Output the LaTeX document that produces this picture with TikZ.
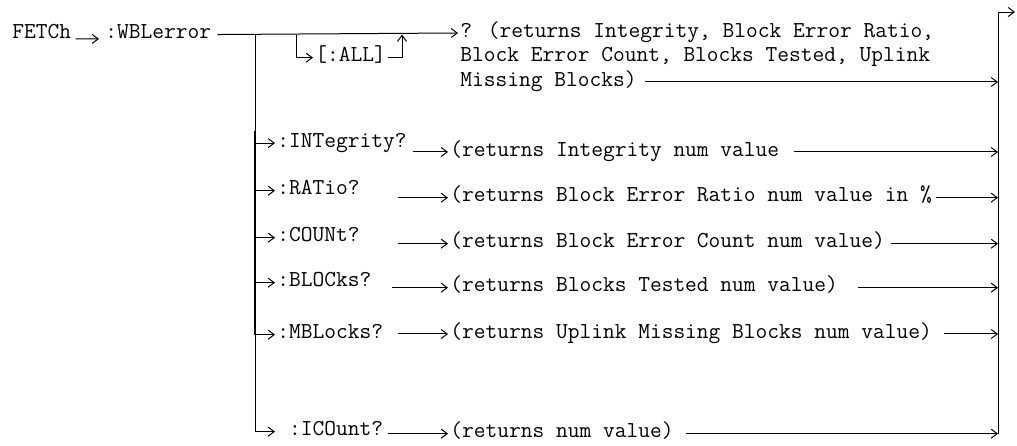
\documentclass[tikz,border=0pt]{standalone}
\usepackage{fontspec}
\usepackage{tikz}
\usetikzlibrary{arrows.meta}
\tikzset{
  cmdnode/.style={anchor=west, inner sep=1pt, font=\ttfamily\fontsize{11.4}{12.25}\selectfont},
  retnode/.style={cmdnode},
  flow/.style={-{Straight Barb[length=3pt,width=4.5pt]}, line width=0.5pt},
  bus/.style={line width=0.5pt},
}

\begin{document}
\begin{tikzpicture}[x=0.5pt, y=-0.5pt]
  \useasboundingbox (0,0) rectangle (1017,445);
  % header and the query form
  \node[cmdnode] (fetch) at (10,32) {FETCh};
  \node[cmdnode] (wbl) at (103,32) {:WBLerror};
  \node[cmdnode] (all) at (313,55) {[:ALL]};
  \node[retnode] (q1) at (458,32) {? (returns Integrity, Block Error Ratio,};
  \node[retnode] (q2) at (458,56.5) {Block Error Count, Blocks Tested, Uplink};
  \node[retnode] (q3) at (458,81) {Missing Blocks)};
  % sub commands
  \node[cmdnode] (int) at (275,143) {:INTegrity?};
  \node[cmdnode] (rat) at (275,188) {:RATio?};
  \node[cmdnode] (cnt) at (275,235) {:COUNt?};
  \node[cmdnode] (blk) at (275,280) {:BLOCks?};
  \node[cmdnode] (mbl) at (275,332) {:MBLocks?};
  \node[cmdnode] (ico) at (275,429) {\ :ICOunt?};
  \node[retnode] (rint) at (448,151) {(returns Integrity num value};
  \node[retnode] (rrat) at (448,195) {(returns Block Error Ratio num value in \%};
  \node[retnode] (rcnt) at (448,241) {(returns Block Error Count num value)};
  \node[retnode] (rblk) at (448,285) {(returns Blocks Tested num value)};
  \node[retnode] (rmbl) at (448,333) {(returns Uplink Missing Blocks num value)};
  \node[retnode] (rico) at (448,431) {(returns num value)};
  \coordinate (lbus) at (255,0); \coordinate (xall) at (296,0); \coordinate (xjoin) at (402,0);
  \coordinate (tap) at (398,0); \coordinate (rtop) at (998,12); \coordinate (rout) at (1015,12);
  % main path
  \draw[flow, shorten <=1pt, shorten >=2pt] (fetch.base east) -- (wbl.base west);
  \draw[flow, shorten <=2pt] (wbl.mid east) -- (q1.mid west);
  \draw[flow] (xall |- wbl.mid east) |- (all.mid west);
  \draw[flow] (all.mid east) -| (xjoin |- wbl.mid east);
  \draw[flow, shorten <=3pt] (q3.mid east) -- (q3.mid east -| rtop);
  % left bus
  \draw[flow] (lbus |- wbl.mid east) |- (ico.mid west);
  \draw[line width=1pt] (lbus |- int.north) -- (lbus |- mbl.mid west);
  \draw[flow] (lbus |- int.mid west) -- (int.mid west); \draw[flow] (lbus |- rat.mid west) -- (rat.mid west);
  \draw[flow] (lbus |- cnt.mid west) -- (cnt.mid west); \draw[flow] (lbus |- blk.mid west) -- (blk.mid west);
  \draw[flow] (lbus |- mbl.mid west) -- (mbl.mid west);
  % into the answers
  \draw[flow, shorten <=2pt] (int.east |- rint.mid west) -- (rint.mid west);
  \draw[flow] (tap |- rrat.mid west) -- (rrat.mid west); \draw[flow] (tap |- rcnt.mid west) -- (rcnt.mid west);
  \draw[flow, shorten <=-3pt] (tap |- rblk.mid west) -- (rblk.mid west); \draw[flow] (tap |- rmbl.mid west) -- (rmbl.mid west);
  \draw[flow, shorten <=-5pt] (tap |- rico.mid west) -- (rico.mid west);
  % right bus
  \draw[bus] (rtop |- rico.mid east) -- (rtop); \draw[flow] (rtop) -- (rout);
  \draw[flow, shorten <=6pt] (rint.mid east) -- (rint.mid east -| rtop);
  \draw[flow, shorten <=1pt] (rrat.mid east) -- (rrat.mid east -| rtop);
  \draw[flow, shorten <=2pt] (rcnt.mid east) -- (rcnt.mid east -| rtop);
  \draw[flow, shorten <=9pt] (rblk.mid east) -- (rblk.mid east -| rtop);
  \draw[flow, shorten <=5pt] (rmbl.mid east) -- (rmbl.mid east -| rtop);
  \draw[flow, shorten <=5pt] (rico.mid east) -- (rico.mid east -| rtop);
\end{tikzpicture}
\end{document}
